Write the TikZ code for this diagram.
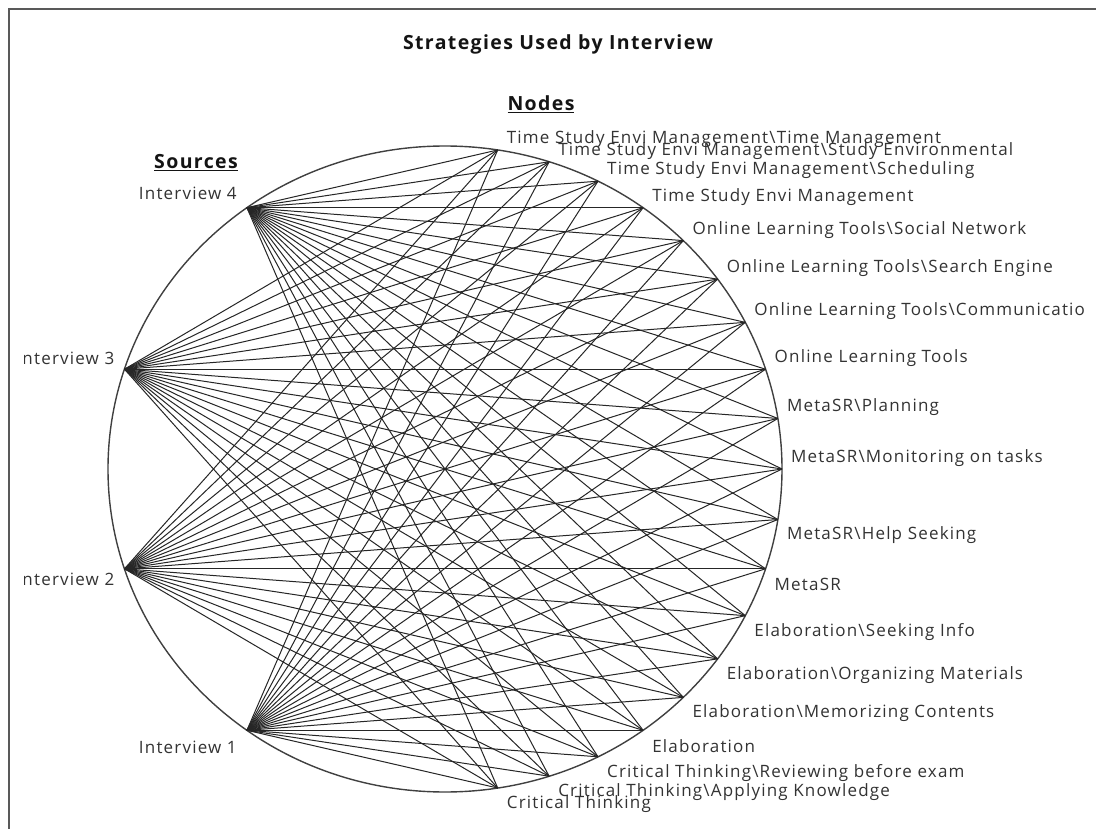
\documentclass[tikz,border=0pt]{standalone}
\usepackage{fontspec}
\newfontfamily\lblfont{Open Sans}[LetterSpace=7]
\begin{document}
\begin{tikzpicture}[x=1pt,y=-1pt,
  edge/.style={draw=black!85, line width=1pt},
  ring/.style={draw=black!75, line width=1.4pt},
  lbl/.style={inner sep=0pt, font=\lblfont\fontsize{17}{20}\selectfont, text=black!80},
  hdr/.style={inner sep=0pt, font=\lblfont\bfseries\fontsize{19.5}{23}\selectfont, text=black!92},
  frame/.style={draw=black!65, line width=2pt}]
\useasboundingbox (0,0) rectangle (1096,829);
\fill[white] (0,0) rectangle (1096,829);
\draw[frame] (8.5,829) -- (8.5,9) -- (1096,9);

% headings
\node[hdr] (title) at (558,44) {Strategies Used by Interview};
\node[hdr] (nodeshdr) at (541,104) {\underline{Nodes}};
\node[hdr] (srchdr) at (196,163) {\underline{Sources}};

% the ring
\def\ecx{445}\def\ecy{469}\def\erx{337}\def\ery{323}
\draw[ring] (\ecx,\ecy) ellipse [x radius=337pt, y radius=323pt];

% sources on the left, every 36 degrees
\foreach \i/\a in {4/126,3/162,2/198,1/234}
  \coordinate (s\i) at ({\ecx+\erx*cos(\a)},{\ecy-\ery*sin(\a)});

% nodes on the right, every 9 degrees from 81 down to -81
\foreach \k in {1,...,19}
  \coordinate (n\k) at ({\ecx+\erx*cos(90-9*\k)},{\ecy-\ery*sin(90-9*\k)});

% connectors
\foreach \i in {1,...,4}
  \foreach \k in {1,...,19}
    \draw[edge] (s\i) -- (n\k);

% node labels
\foreach \k/\t in {
  1/Time Study Envi Management\textbackslash Time Management,
  2/Time Study Envi Management\textbackslash Study Environmental,
  3/Time Study Envi Management\textbackslash Scheduling,
  4/Time Study Envi Management,
  5/Online Learning Tools\textbackslash Social Network,
  6/Online Learning Tools\textbackslash Search Engine,
  7/Online Learning Tools\textbackslash Communicatio,
  8/Online Learning Tools,
  9/MetaSR\textbackslash Planning,
  10/MetaSR\textbackslash Monitoring on tasks}
  \node[lbl, anchor=west] (l\k) at ([xshift=9pt,yshift=11pt]n\k) {\t};
\foreach \k/\t in {
  11/MetaSR\textbackslash Help Seeking,
  12/MetaSR,
  13/Elaboration\textbackslash Seeking Info,
  14/Elaboration\textbackslash Organizing Materials,
  15/Elaboration\textbackslash Memorizing Contents,
  16/Elaboration,
  17/Critical Thinking\textbackslash Reviewing before exam,
  18/Critical Thinking\textbackslash Applying Knowledge,
  19/Critical Thinking}
  \node[lbl, anchor=west] (l\k) at ([xshift=9pt,yshift=-16pt]n\k) {\t};

% source labels
\begin{scope}
  \clip (24,0) rectangle (1096,829);
  \node[lbl, anchor=east] (ls4) at ([xshift=-10pt,yshift=14pt]s4) {Interview 4};
  \node[lbl, anchor=east] (ls3) at ([xshift=-10pt,yshift=11pt]s3) {Interview 3};
  \node[lbl, anchor=east] (ls2) at ([xshift=-10pt,yshift=-11pt]s2) {Interview 2};
  \node[lbl, anchor=east] (ls1) at ([xshift=-10pt,yshift=-17pt]s1) {Interview 1};
\end{scope}
\end{tikzpicture}
\end{document}
